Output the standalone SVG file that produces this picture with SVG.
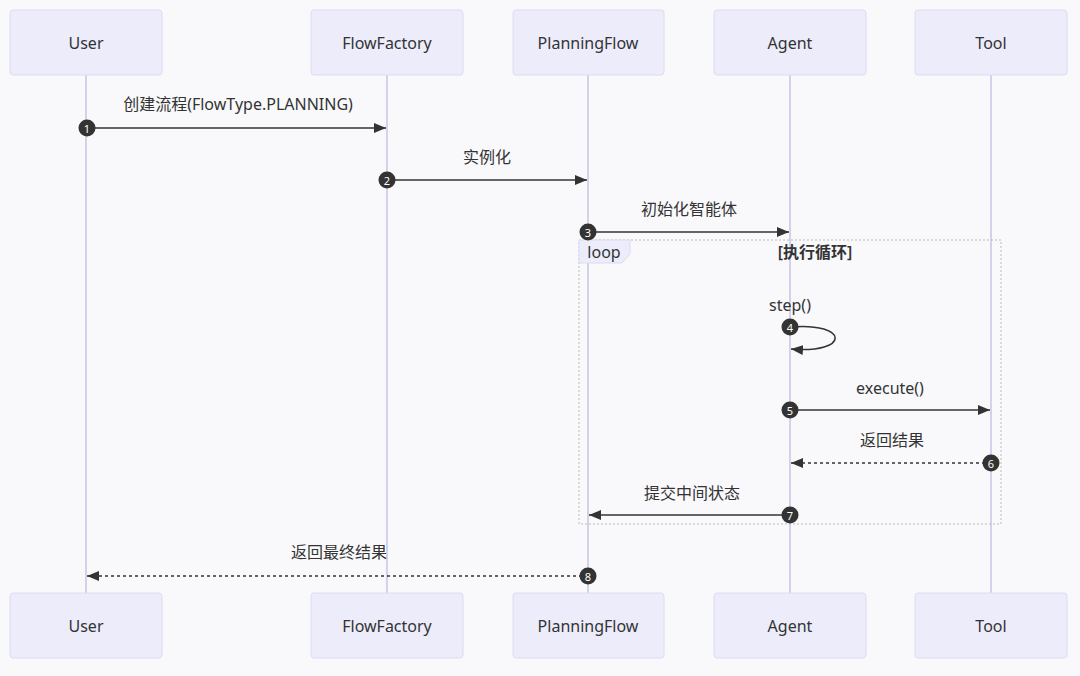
<svg xmlns="http://www.w3.org/2000/svg" width="1080" height="676" viewBox="0 0 1080 676">
<defs>
<style>
.actor{fill:#ececfb;stroke:#dcdcf2;stroke-width:1}
.atext{font-family:"Noto Sans","Noto Sans CJK SC",sans-serif;font-size:16px;fill:#333;text-anchor:middle;dominant-baseline:central}
.life{stroke:#d2d2ec;stroke-width:2;fill:none}
.msg{stroke:#333;stroke-width:1.6;fill:none}
.dash{stroke-dasharray:3,3}
.mtext{font-family:"Noto Sans","Noto Sans CJK SC",sans-serif;font-size:16px;fill:#333;text-anchor:middle}
.num{fill:#333}
.ntext{font-family:"Noto Sans",sans-serif;font-size:11px;fill:#fff;text-anchor:middle;dominant-baseline:central}
.loopbox{fill:none;stroke:#bbb;stroke-width:1;stroke-dasharray:2,2}
</style>
<marker id="ah" viewBox="0 0 12 10" refX="12" refY="5" markerWidth="12" markerHeight="10" markerUnits="userSpaceOnUse" orient="auto">
<path d="M0,0 L12,5 L0,10 z" fill="#333"/>
</marker>
</defs>
<rect width="1080" height="676" fill="#f9f9fb"/>
<g id="lifelines">
<line class="life" x1="86" y1="75" x2="86" y2="593"/>
<line class="life" x1="387" y1="75" x2="387" y2="593"/>
<line class="life" x1="588" y1="75" x2="588" y2="593"/>
<line class="life" x1="790" y1="75" x2="790" y2="593"/>
<line class="life" x1="991" y1="75" x2="991" y2="593"/>
</g>
<g id="loop">
<rect class="loopbox" x="579" y="240" width="422" height="284"/>
<path d="M579,240 L630,240 L630,254 L622,263 L579,263 Z" fill="#ececfb" stroke="#dcdcf2"/>
<text class="mtext" x="604" y="258">loop</text>
<text class="mtext" x="815" y="258" style="font-weight:600">[执行循环]</text>
</g>
<g id="User-top"><rect class="actor" x="10" y="10" width="152" height="65" rx="3"/><text class="atext" x="86" y="43">User</text></g>
<g id="FlowFactory-top"><rect class="actor" x="311" y="10" width="152" height="65" rx="3"/><text class="atext" x="387" y="43">FlowFactory</text></g>
<g id="PlanningFlow-top"><rect class="actor" x="513" y="10" width="151" height="65" rx="3"/><text class="atext" x="588" y="43">PlanningFlow</text></g>
<g id="Agent-top"><rect class="actor" x="714" y="10" width="152" height="65" rx="3"/><text class="atext" x="790" y="43">Agent</text></g>
<g id="Tool-top"><rect class="actor" x="915" y="10" width="152" height="65" rx="3"/><text class="atext" x="991" y="43">Tool</text></g>
<g id="User-bottom"><rect class="actor" x="10" y="593" width="152" height="65" rx="3"/><text class="atext" x="86" y="626">User</text></g>
<g id="FlowFactory-bottom"><rect class="actor" x="311" y="593" width="152" height="65" rx="3"/><text class="atext" x="387" y="626">FlowFactory</text></g>
<g id="PlanningFlow-bottom"><rect class="actor" x="513" y="593" width="151" height="65" rx="3"/><text class="atext" x="588" y="626">PlanningFlow</text></g>
<g id="Agent-bottom"><rect class="actor" x="714" y="593" width="152" height="65" rx="3"/><text class="atext" x="790" y="626">Agent</text></g>
<g id="Tool-bottom"><rect class="actor" x="915" y="593" width="152" height="65" rx="3"/><text class="atext" x="991" y="626">Tool</text></g>
<g id="connectors">
<line class="msg" x1="87" y1="128" x2="386" y2="128" marker-end="url(#ah)"/>
<text class="mtext" x="238" y="110">创建流程(FlowType.PLANNING)</text>
<line class="msg" x1="387" y1="180" x2="587" y2="180" marker-end="url(#ah)"/>
<text class="mtext" x="487" y="163">实例化</text>
<line class="msg" x1="588" y1="232" x2="789" y2="232" marker-end="url(#ah)"/>
<text class="mtext" x="689" y="215">初始化智能体</text>
<path class="msg" d="M790,327 C850,322 850,354 791,349" marker-end="url(#ah)"/>
<text class="mtext" x="790" y="311">step()</text>
<line class="msg" x1="790" y1="410" x2="990" y2="410" marker-end="url(#ah)"/>
<text class="mtext" x="890" y="394">execute()</text>
<line class="msg dash" x1="991" y1="463" x2="791" y2="463" marker-end="url(#ah)"/>
<text class="mtext" x="892" y="446">返回结果</text>
<line class="msg" x1="790" y1="515" x2="589" y2="515" marker-end="url(#ah)"/>
<text class="mtext" x="692" y="499">提交中间状态</text>
<line class="msg dash" x1="588" y1="576" x2="87" y2="576" marker-end="url(#ah)"/>
<text class="mtext" x="339" y="558">返回最终结果</text>
</g>
<g id="numbers">
<circle class="num" cx="87" cy="128" r="8.5"/><text class="ntext" x="87" y="128">1</text>
<circle class="num" cx="387" cy="180" r="8.5"/><text class="ntext" x="387" y="180">2</text>
<circle class="num" cx="588" cy="232" r="8.5"/><text class="ntext" x="588" y="232">3</text>
<circle class="num" cx="790" cy="327" r="8.5"/><text class="ntext" x="790" y="327">4</text>
<circle class="num" cx="790" cy="410" r="8.5"/><text class="ntext" x="790" y="410">5</text>
<circle class="num" cx="991" cy="463" r="8.5"/><text class="ntext" x="991" y="463">6</text>
<circle class="num" cx="790" cy="515" r="8.5"/><text class="ntext" x="790" y="515">7</text>
<circle class="num" cx="588" cy="576" r="8.5"/><text class="ntext" x="588" y="576">8</text>
</g>
</svg>
